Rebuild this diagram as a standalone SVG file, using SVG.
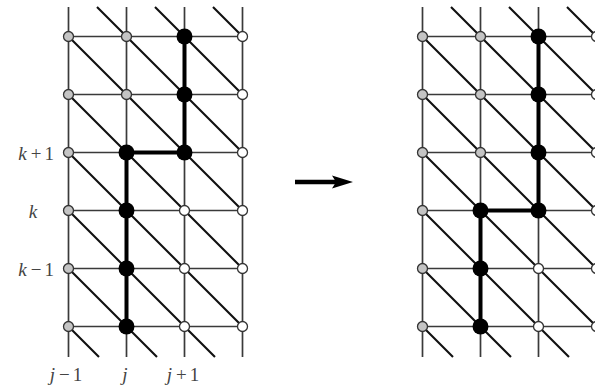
<svg xmlns="http://www.w3.org/2000/svg" width="595" height="388" viewBox="0 0 595 388">
<style>
.grid{stroke:#3a3a3a;stroke-width:1.7;fill:none}
.diag{stroke:#111;stroke-width:2.1;fill:none}
.path{stroke:#000;stroke-width:4;fill:none;stroke-linejoin:miter}
.g{fill:#c4c4c4;stroke:#333;stroke-width:1.3}
.w{fill:#fff;stroke:#333;stroke-width:1.3}
.b{fill:#000}
.lbl{font-family:"Liberation Serif","Times New Roman",serif;font-size:19px;fill:#444}
.it{font-style:italic}
</style>
<rect width="595" height="388" fill="#fff"/>
<g id="connectors">
<g id="grid-left">
<path class="grid" d="M68.5 7V357M126.5 7V357M184.5 7V357M242.5 7V357M68.5 36.5H242.5M68.5 94.5H242.5M68.5 152.5H242.5M68.5 210.5H242.5M68.5 268.5H242.5M68.5 326.5H242.5"/>
<path class="diag" d="M213 7L242.5 36.5M155 7L242.5 94.5M97 7L242.5 152.5M68.5 36.5L242.5 210.5M68.5 94.5L242.5 268.5M68.5 152.5L242.5 326.5M68.5 210.5L215 357M68.5 268.5L157 357M68.5 326.5L99 357"/>
<path class="path" d="M184.5 36.5V152.5H126.5V326.5"/>
</g>
<g id="grid-right">
<path class="grid" d="M422.5 7V357M480.5 7V357M538.5 7V357M596.5 7V357M422.5 36.5H596.5M422.5 94.5H596.5M422.5 152.5H596.5M422.5 210.5H596.5M422.5 268.5H596.5M422.5 326.5H596.5"/>
<path class="diag" d="M567 7L596.5 36.5M509 7L596.5 94.5M451 7L596.5 152.5M422.5 36.5L596.5 210.5M422.5 94.5L596.5 268.5M422.5 152.5L596.5 326.5M422.5 210.5L569 357M422.5 268.5L511 357M422.5 326.5L453 357"/>
<path class="path" d="M538.5 36.5V210.5H480.5V326.5"/>
</g>
<g id="transition-arrow">
<line x1="295" y1="182" x2="338" y2="182" stroke="#000" stroke-width="4.5"/>
<polygon points="332,175.5 353,182 332,188.5 336,182" fill="#000"/>
</g>
</g>
<g id="nodes-left">
<g id="L00"><circle class="g" cx="68.5" cy="36.5" r="5"/></g>
<g id="L01"><circle class="g" cx="68.5" cy="94.5" r="5"/></g>
<g id="L02"><circle class="g" cx="68.5" cy="152.5" r="5"/></g>
<g id="L03"><circle class="g" cx="68.5" cy="210.5" r="5"/></g>
<g id="L04"><circle class="g" cx="68.5" cy="268.5" r="5"/></g>
<g id="L05"><circle class="g" cx="68.5" cy="326.5" r="5"/></g>
<g id="L10"><circle class="g" cx="126.5" cy="36.5" r="5"/></g>
<g id="L11"><circle class="g" cx="126.5" cy="94.5" r="5"/></g>
<g id="L12"><circle class="b" cx="126.5" cy="152.5" r="8"/></g>
<g id="L13"><circle class="b" cx="126.5" cy="210.5" r="8"/></g>
<g id="L14"><circle class="b" cx="126.5" cy="268.5" r="8"/></g>
<g id="L15"><circle class="b" cx="126.5" cy="326.5" r="8"/></g>
<g id="L20"><circle class="b" cx="184.5" cy="36.5" r="8"/></g>
<g id="L21"><circle class="b" cx="184.5" cy="94.5" r="8"/></g>
<g id="L22"><circle class="b" cx="184.5" cy="152.5" r="8"/></g>
<g id="L23"><circle class="w" cx="184.5" cy="210.5" r="5"/></g>
<g id="L24"><circle class="w" cx="184.5" cy="268.5" r="5"/></g>
<g id="L25"><circle class="w" cx="184.5" cy="326.5" r="5"/></g>
<g id="L30"><circle class="w" cx="242.5" cy="36.5" r="5"/></g>
<g id="L31"><circle class="w" cx="242.5" cy="94.5" r="5"/></g>
<g id="L32"><circle class="w" cx="242.5" cy="152.5" r="5"/></g>
<g id="L33"><circle class="w" cx="242.5" cy="210.5" r="5"/></g>
<g id="L34"><circle class="w" cx="242.5" cy="268.5" r="5"/></g>
<g id="L35"><circle class="w" cx="242.5" cy="326.5" r="5"/></g>
</g>
<g id="nodes-right">
<g id="R00"><circle class="g" cx="422.5" cy="36.5" r="5"/></g>
<g id="R01"><circle class="g" cx="422.5" cy="94.5" r="5"/></g>
<g id="R02"><circle class="g" cx="422.5" cy="152.5" r="5"/></g>
<g id="R03"><circle class="g" cx="422.5" cy="210.5" r="5"/></g>
<g id="R04"><circle class="g" cx="422.5" cy="268.5" r="5"/></g>
<g id="R05"><circle class="g" cx="422.5" cy="326.5" r="5"/></g>
<g id="R10"><circle class="g" cx="480.5" cy="36.5" r="5"/></g>
<g id="R11"><circle class="g" cx="480.5" cy="94.5" r="5"/></g>
<g id="R12"><circle class="g" cx="480.5" cy="152.5" r="5"/></g>
<g id="R13"><circle class="b" cx="480.5" cy="210.5" r="8"/></g>
<g id="R14"><circle class="b" cx="480.5" cy="268.5" r="8"/></g>
<g id="R15"><circle class="b" cx="480.5" cy="326.5" r="8"/></g>
<g id="R20"><circle class="b" cx="538.5" cy="36.5" r="8"/></g>
<g id="R21"><circle class="b" cx="538.5" cy="94.5" r="8"/></g>
<g id="R22"><circle class="b" cx="538.5" cy="152.5" r="8"/></g>
<g id="R23"><circle class="b" cx="538.5" cy="210.5" r="8"/></g>
<g id="R24"><circle class="w" cx="538.5" cy="268.5" r="5"/></g>
<g id="R25"><circle class="w" cx="538.5" cy="326.5" r="5"/></g>
<g id="R30"><circle class="w" cx="596.5" cy="36.5" r="5"/></g>
<g id="R31"><circle class="w" cx="596.5" cy="94.5" r="5"/></g>
<g id="R32"><circle class="w" cx="596.5" cy="152.5" r="5"/></g>
<g id="R33"><circle class="w" cx="596.5" cy="210.5" r="5"/></g>
<g id="R34"><circle class="w" cx="596.5" cy="268.5" r="5"/></g>
<g id="R35"><circle class="w" cx="596.5" cy="326.5" r="5"/></g>
</g>
<g id="labels">
<text class="lbl" x="54" y="160" text-anchor="end"><tspan class="it">k</tspan><tspan dx="4">+</tspan><tspan dx="3">1</tspan></text>
<text class="lbl it" x="33" y="218" text-anchor="middle">k</text>
<text class="lbl" x="54" y="276" text-anchor="end"><tspan class="it">k</tspan><tspan dx="4">−</tspan><tspan dx="3">1</tspan></text>
<text class="lbl" x="66" y="381" text-anchor="middle"><tspan class="it">j</tspan><tspan dx="4">−</tspan><tspan dx="3">1</tspan></text>
<text class="lbl it" x="125" y="381" text-anchor="middle">j</text>
<text class="lbl" x="183" y="381" text-anchor="middle"><tspan class="it">j</tspan><tspan dx="4">+</tspan><tspan dx="3">1</tspan></text>
</g>
</svg>
